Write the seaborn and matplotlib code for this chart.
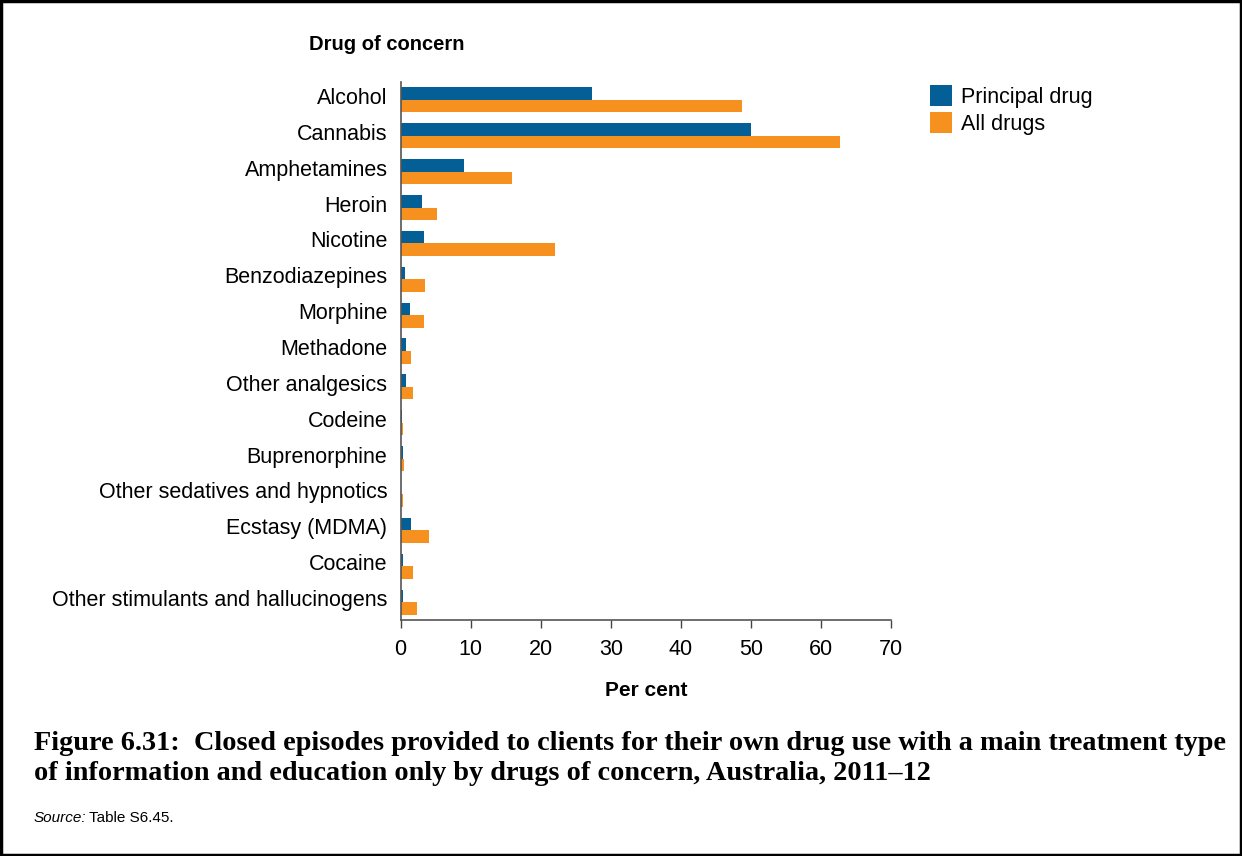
import pandas as pd
import matplotlib.pyplot as plt
import matplotlib.transforms as mtransforms
import seaborn as sns
from matplotlib.patches import Rectangle

# Drugs of concern, top to bottom as drawn
drugs = [
    'Alcohol', 'Cannabis', 'Amphetamines', 'Heroin', 'Nicotine',
    'Benzodiazepines', 'Morphine', 'Methadone', 'Other analgesics',
    'Codeine', 'Buprenorphine', 'Other sedatives and hypnotics',
    'Ecstasy (MDMA)', 'Cocaine', 'Other stimulants and hallucinogens',
]
principal_drug = [27.3, 50.0, 9.0, 3.0, 3.3, 0.6, 1.4, 0.7, 0.7, 0.2, 0.3, 0.1, 1.5, 0.4, 0.3]
all_drugs = [48.7, 62.7, 15.9, 5.2, 22.0, 3.5, 3.3, 1.5, 1.8, 0.4, 0.5, 0.3, 4.1, 1.8, 2.3]
series_names = ['Principal drug', 'All drugs']
series_colors = ['#035f95', '#f6901e']
x_ticks = [0, 10, 20, 30, 40, 50, 60, 70]

df = pd.DataFrame({
    'drug': drugs * 2,
    'series': [series_names[0]] * len(drugs) + [series_names[1]] * len(drugs),
    'pct': principal_drug + all_drugs,
})

sns.set_theme(style='white')
plt.rcParams['font.family'] = ['Liberation Sans', 'DejaVu Sans']
plt.rcParams['text.color'] = 'black'
plt.rcParams['xtick.color'] = 'black'
plt.rcParams['ytick.color'] = 'black'
plt.rcParams['axes.labelcolor'] = 'black'

fig = plt.figure(figsize=(12.42, 8.56), dpi=100)
ax = fig.add_axes([0.3226, 0.2757, 0.395, 0.6285])

sns.barplot(data=df, y='drug', x='pct', hue='series', order=drugs,
            hue_order=series_names, palette=series_colors, orient='h',
            width=0.7, saturation=1, linewidth=0, ax=ax)

ax.set_xlim(0, 70)
ax.set_ylim(len(drugs) - 0.5, -0.5)
ax.set_xticks(x_ticks)
ax.set_ylabel('')
ax.set_xlabel('Per cent', fontsize=15, fontweight='bold', labelpad=15)
ax.tick_params(axis='x', labelsize=15.5, length=6, width=1, color='#444444',
               direction='out', bottom=True, pad=8)
ax.tick_params(axis='y', labelsize=15.5, length=0, pad=9.5)
# category labels sit a little above the bar pair centre in the original
lift = mtransforms.ScaledTranslation(0, 4 / 100, fig.dpi_scale_trans)
for lab in ax.get_yticklabels():
    lab.set_transform(lab.get_transform() + lift)
for s in ['top', 'right']:
    ax.spines[s].set_visible(False)
for s in ['left', 'bottom']:
    ax.spines[s].set_color('#555555')
    ax.spines[s].set_linewidth(1.2)

ax.legend(loc='upper left', bbox_to_anchor=(930 / 1242, 1 - 85 / 856),
          bbox_transform=fig.transFigure, frameon=False,
          fontsize=15.5, handlelength=1.0, handleheight=1.1,
          handletextpad=0.45, labelspacing=0.2, borderaxespad=0, borderpad=0)

fig.text(0.311, 0.948, 'Drug of concern', fontsize=14.5, fontweight='bold',
         ha='center', va='center')

caption = ('Figure 6.31:  Closed episodes provided to clients for their own drug use with a main treatment type\n'
           'of information and education only by drugs of concern, Australia, 2011\u201312')
fig.text(0.027, 0.1135, caption, fontsize=20.3, fontweight='bold',
         family=['Liberation Serif', 'DejaVu Serif'], ha='left', va='center',
         linespacing=1.27)
fig.text(0.027, 0.044, 'Source:', fontsize=11, style='italic', ha='left', va='center')
fig.text(0.0715, 0.044, 'Table S6.45.', fontsize=11, ha='left', va='center')

# Black frame around the whole figure
fig.patches.append(Rectangle((0.001, 0.001), 0.998, 0.998, transform=fig.transFigure,
                             fill=False, edgecolor='black', linewidth=2.5))

fig.savefig('out.png', dpi=100)
